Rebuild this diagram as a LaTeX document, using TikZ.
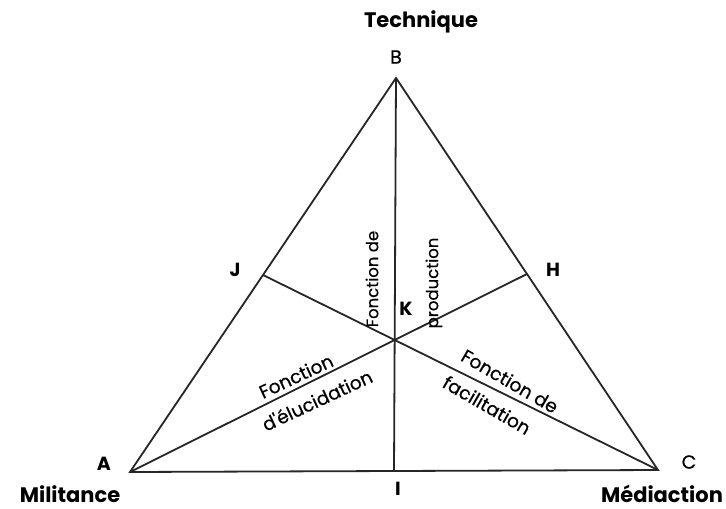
\documentclass[tikz,border=0pt]{standalone}
\usepackage{fontspec}
\setmainfont{Poppins}
\newfontfamily\heavyreg{Poppins}[FakeBold=0.5]
\usetikzlibrary{calc}
\begin{document}
\begin{tikzpicture}[x=1pt,y=-1pt,
  edge/.style={draw=black!85, line width=1.8pt},
  big/.style={font=\fontsize{21}{23}\selectfont\bfseries, inner sep=0pt},
  letter/.style={font=\fontsize{19}{21}\selectfont\heavyreg, inner sep=0pt},
  bletter/.style={font=\fontsize{19}{21}\selectfont\bfseries, inner sep=0pt},
  vfunc/.style={font=\fontsize{16.5}{18}\selectfont\heavyreg, inner sep=0pt},
  func/.style={font=\fontsize{18.5}{20}\selectfont\heavyreg, inner sep=0pt}]
\useasboundingbox (0,0) rectangle (726,509);
\fill[white] (0,0) rectangle (726,509);
\coordinate (A) at (130,472);
\coordinate (B) at (396,78);
\coordinate (C) at (658,470);
\coordinate (K) at (barycentric cs:A=1,B=1,C=1);
\coordinate (J) at ($(A)!0.5!(B)$);
\coordinate (H) at ($(B)!0.5!(C)$);
\coordinate (I) at ($(A)!0.5!(C)$);
\draw[edge, line join=miter] (A) -- (B) -- (C) -- cycle;
\draw[edge] (B) -- (I);
\draw[edge] (J) -- (C);
\draw[edge] (H) -- (A);
% labels
\node[big] (tech) at (421,22) {Technique};
\node[letter] (lB) at (396,57) {B};
\node[bletter] (lJ) at (235,270) {J};
\node[bletter] (lH) at (553,270) {H};
\node[bletter] (lK) at (406,309) {K};
\node[bletter] (lA) at (104,464) {A};
\node[letter] (lC) at (689,462) {C};
\node[bletter] (lI) at (398,489) {I};
\node[big] (mil) at (70,494) {Militance};
\node[big] (med) at (662,494) {Médiaction};
% function labels
\node[vfunc, rotate=90] (f1) at (372,279) {Fonction de};
\node[vfunc, rotate=90] (f2) at (434,283) {production};
\node[func, rotate=25] (f3) at (296,376) {Fonction};
\node[func, rotate=25] (f4) at (317,400) {d'élucidation};
\node[func, rotate=-30] (f5) at (510,381) {Fonction de};
\node[func, rotate=-30] (f6) at (487,405) {facilitation};
\end{tikzpicture}
\end{document}
